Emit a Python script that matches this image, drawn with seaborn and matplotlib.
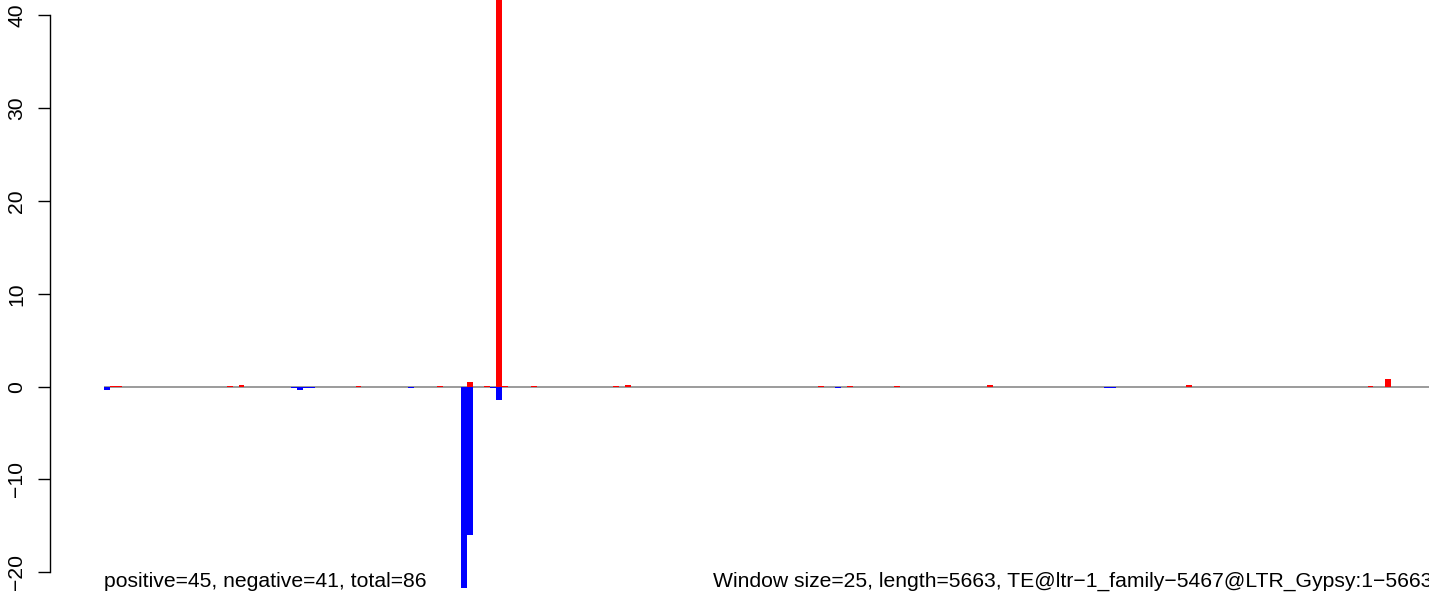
import numpy as np
import pandas as pd
import matplotlib
matplotlib.use("Agg")
import matplotlib.pyplot as plt
import seaborn as sns

# ---- data ----
n_windows = 227  # length 5663 / window size 25
pos_idx = [1, 2, 21, 23, 43, 57, 62, 65, 67, 68, 73, 87, 89, 122, 127, 135, 151, 185, 216, 219]
pos_val = [0.1, 0.1, 0.1, 0.17, 0.1, 0.1, 0.5, 0.1, 48.0, 0.1, 0.1, 0.1, 0.17, 0.1, 0.1, 0.1, 0.17, 0.17, 0.1, 0.85]
neg_idx = [0, 32, 33, 34, 35, 52, 61, 62, 66, 67, 125, 171, 172]
neg_val = [-0.4, -0.1, -0.37, -0.15, -0.1, -0.2, -21.7, -16.0, -0.1, -1.4, -0.1, -0.15, -0.15]
y_ticks = [-20, -10, 0, 10, 20, 30, 40]
left_label = "positive=45, negative=41, total=86"
right_label = "Window size=25, length=5663, TE@ltr\u22121_family\u22125467@LTR_Gypsy:1\u22125663"

windows = np.arange(n_windows)
pos = np.zeros(n_windows)
pos[pos_idx] = pos_val
neg = np.zeros(n_windows)
neg[neg_idx] = neg_val
df = pd.DataFrame({"window": windows, "pos": pos, "neg": neg})

# ---- figure ----
sns.set_style("white")
plt.rcParams["font.family"] = ["Liberation Sans", "DejaVu Sans"]
FS = 15.2

W, H = 1429, 592
fig = plt.figure(figsize=(W / 100, H / 100), dpi=100)

px_per_x = 5.85
x0_px = 104.0          # left edge of first bar
zero_py = 386.6        # pixel row of y=0
px_per_y = 9.28
spine_px = 50.0

ax = fig.add_axes([spine_px / W, 0.0, (W - spine_px) / W, 1.0])

def xval(px):
    return (px - x0_px) / px_per_x - 0.5

ax.hlines(0, -0.5, n_windows - 0.5, color="#808080", lw=1.1, zorder=1)

sns.barplot(data=df, x="window", y="pos", native_scale=True, width=1.0,
            color="#ff0000", saturation=1, errorbar=None, linewidth=0,
            ax=ax, zorder=2)
sns.barplot(data=df, x="window", y="neg", native_scale=True, width=1.0,
            color="#0000ff", saturation=1, errorbar=None, linewidth=0,
            ax=ax, zorder=2)

ax.set_xlim(xval(spine_px), xval(W))
ax.set_ylim(-(H - zero_py) / px_per_y, zero_py / px_per_y)

for s in ["top", "right", "bottom"]:
    ax.spines[s].set_visible(False)
ax.spines["left"].set_bounds(-20, 40)
ax.spines["left"].set_linewidth(1.0)
ax.spines["left"].set_color("black")
ax.set_xticks([])
ax.set_yticks(y_ticks)
ax.set_yticklabels(["\u2212" + str(abs(t)) if t < 0 else str(t) for t in y_ticks],
                   rotation=90, va="center", fontsize=FS)
ax.tick_params(axis="y", direction="out", length=9, width=1.0, pad=8, colors="black",
               left=True)
ax.set_xlabel("")
ax.set_ylabel("")

base_y = -(587 - zero_py) / px_per_y
ax.text(-0.5, base_y, left_label, ha="left", va="baseline", fontsize=FS, color="black")
ax.text(n_windows - 0.5, base_y, right_label, ha="right", va="baseline", fontsize=FS,
        color="black")

fig.savefig("out.png", dpi=100)
